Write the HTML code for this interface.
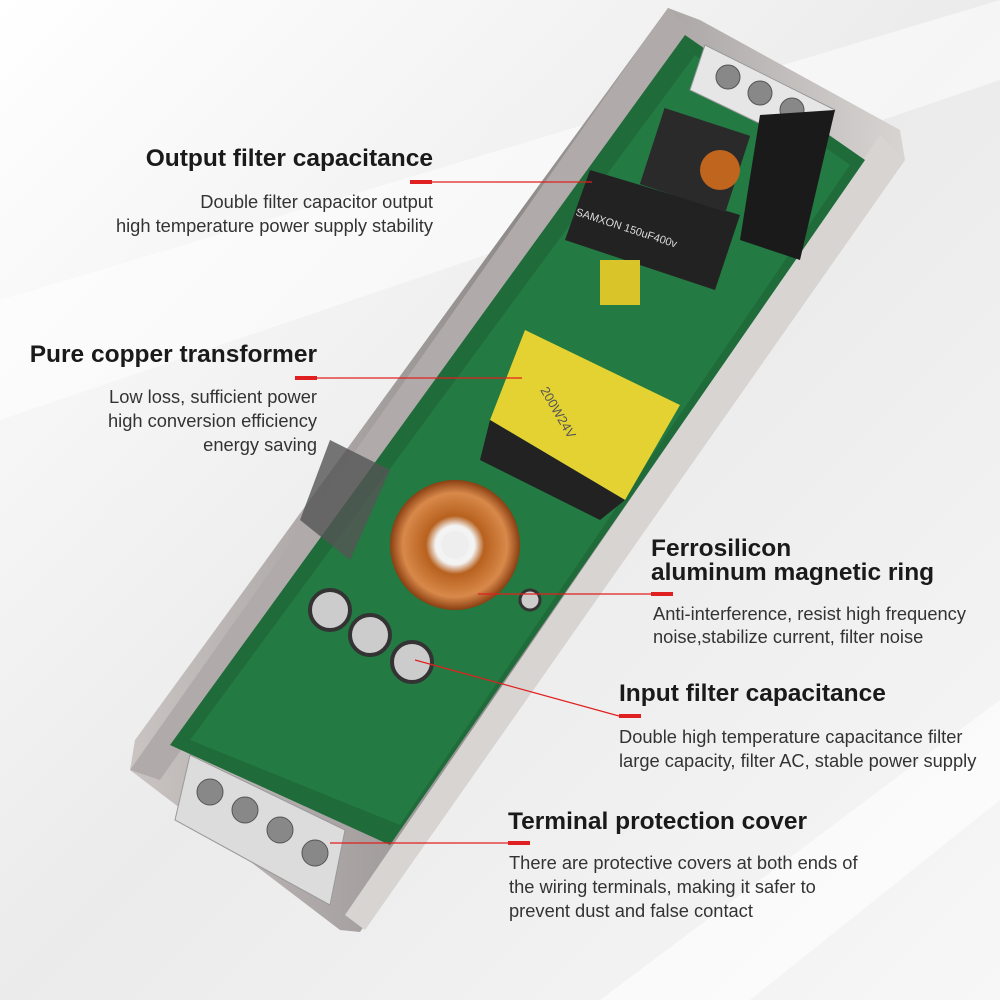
<!DOCTYPE html>
<html><head><meta charset="utf-8"><style>
html,body{margin:0;padding:0;}
body{width:1000px;height:1000px;position:relative;overflow:hidden;font-family:"Liberation Sans",Arial,sans-serif;background:#f2f2f2;}
svg{position:absolute;left:0;top:0;}
.t{position:absolute;font-weight:bold;font-size:24.5px;color:#1a1a1a;white-space:nowrap;line-height:24px;}
.d{position:absolute;font-size:18.3px;color:#333;white-space:nowrap;line-height:24px;}
.r{text-align:right;}
</style></head><body>
<svg width="1000" height="1000" viewBox="0 0 1000 1000">
<defs>
<linearGradient id="bg" x1="0" y1="0" x2="1" y2="1">
<stop offset="0" stop-color="#ffffff"/><stop offset="0.5" stop-color="#ebebeb"/><stop offset="1" stop-color="#f7f7f7"/></linearGradient>
<linearGradient id="metal" x1="0" y1="0" x2="1" y2="0">
<stop offset="0" stop-color="#c9c4c2"/><stop offset="0.5" stop-color="#8f8a8a"/><stop offset="1" stop-color="#d8d4d2"/></linearGradient>
<radialGradient id="cu"><stop offset="0.3" stop-color="#f3f3f3"/><stop offset="0.45" stop-color="#b8611f"/><stop offset="0.8" stop-color="#d8894a"/><stop offset="1" stop-color="#8a3f12"/></radialGradient>
</defs>
<rect width="1000" height="1000" fill="url(#bg)"/>
<polygon points="0,300 1000,0 1000,80 0,420" fill="#fff" opacity="0.5"/>
<polygon points="600,1000 1000,700 1000,800 750,1000" fill="#fff" opacity="0.6"/>
<polygon points="668,8 700,20 900,130 905,160 360,932 340,930 130,770 135,740" fill="url(#metal)"/>
<polygon points="668,8 690,30 160,780 130,770" fill="#b0abaa"/>
<polygon points="880,135 905,160 365,930 345,915" fill="#d8d4d2"/>
<polygon points="685,35 865,160 390,845 170,745" fill="#1f6b3a"/>
<polygon points="695,55 850,165 400,825 190,740" fill="#237a42"/>
<polygon points="705,45 835,110 815,150 690,90" fill="#e6e6e6" stroke="#999"/>
<circle cx="728" cy="77" r="12" fill="#888" stroke="#555"/><circle cx="760" cy="93" r="12" fill="#888" stroke="#555"/><circle cx="792" cy="110" r="12" fill="#888" stroke="#555"/>
<polygon points="760,115 835,110 800,260 740,240" fill="#1a1a1a"/>
<polygon points="590,170 740,215 715,290 565,240" fill="#222"/>
<text x="575" y="215" font-size="11" fill="#ddd" transform="rotate(18 575 215)">SAMXON 150uF400v</text>
<rect x="650" y="120" width="90" height="80" fill="#2a2a2a" transform="rotate(18 695 160)"/>
<circle cx="720" cy="170" r="20" fill="#c0651d"/>
<rect x="600" y="260" width="40" height="45" fill="#d9c52a"/>
<polygon points="525,330 680,405 625,500 490,420" fill="#e4d232"/>
<text x="540" y="390" font-size="13" fill="#555" transform="rotate(60 540 390)">200W24V</text>
<polygon points="490,420 625,500 600,520 480,460" fill="#222"/>
<circle cx="455" cy="545" r="65" fill="url(#cu)"/>
<circle cx="455" cy="545" r="14" fill="#eee"/>
<circle cx="330" cy="610" r="20" fill="#ccc" stroke="#333" stroke-width="4"/>
<circle cx="370" cy="635" r="20" fill="#ccc" stroke="#333" stroke-width="4"/>
<circle cx="412" cy="662" r="20" fill="#ccc" stroke="#333" stroke-width="4"/>
<circle cx="530" cy="600" r="10" fill="#ccc" stroke="#333" stroke-width="3"/>
<polygon points="330,440 390,470 350,560 300,520" fill="#555" opacity="0.8"/>
<polygon points="190,755 345,830 330,905 175,820" fill="#dcdcdc" stroke="#999"/>
<circle cx="210" cy="792" r="13" fill="#888" stroke="#555"/><circle cx="245" cy="810" r="13" fill="#888" stroke="#555"/><circle cx="280" cy="830" r="13" fill="#888" stroke="#555"/><circle cx="315" cy="853" r="13" fill="#888" stroke="#555"/>
<g stroke="#e02020" stroke-width="1.2" fill="none">
<line x1="432" y1="182" x2="592" y2="182"/>
<line x1="317" y1="378" x2="522" y2="378"/>
<line x1="651" y1="594" x2="478" y2="594"/>
<line x1="619" y1="716" x2="415" y2="660"/>
<line x1="508" y1="843" x2="330" y2="843"/>
</g>
<g fill="#e02020">
<rect x="410" y="180" width="22" height="4"/>
<rect x="295" y="376" width="22" height="4"/>
<rect x="651" y="592" width="22" height="4"/>
<rect x="619" y="714" width="22" height="4"/>
<rect x="508" y="841" width="22" height="4"/>
</g>
</svg>
<div class="t r" style="right:567px;top:147px;">Output filter capacitance</div>
<div class="d r" style="right:567px;top:190px;">Double filter capacitor output</div>
<div class="d r" style="right:567px;top:214px;">high temperature power supply stability</div>
<div class="t r" style="right:683px;top:343px;">Pure copper transformer</div>
<div class="d r" style="right:683px;top:385px;">Low loss, sufficient power</div>
<div class="d r" style="right:683px;top:409px;">high conversion efficiency</div>
<div class="d r" style="right:683px;top:433px;">energy saving</div>
<div class="t" style="left:651px;top:537px;">Ferrosilicon</div>
<div class="t" style="left:651px;top:561px;">aluminum magnetic ring</div>
<div class="d" style="left:653px;top:602px;">Anti-interference, resist high frequency</div>
<div class="d" style="left:653px;top:625px;">noise,stabilize current, filter noise</div>
<div class="t" style="left:619px;top:682px;">Input filter capacitance</div>
<div class="d" style="left:619px;top:725px;">Double high temperature capacitance filter</div>
<div class="d" style="left:619px;top:749px;">large capacity, filter AC, stable power supply</div>
<div class="t" style="left:508px;top:810px;">Terminal protection cover</div>
<div class="d" style="left:509px;top:851px;">There are protective covers at both ends of</div>
<div class="d" style="left:509px;top:875px;">the wiring terminals, making it safer to</div>
<div class="d" style="left:509px;top:899px;">prevent dust and false contact</div>
</body></html>
